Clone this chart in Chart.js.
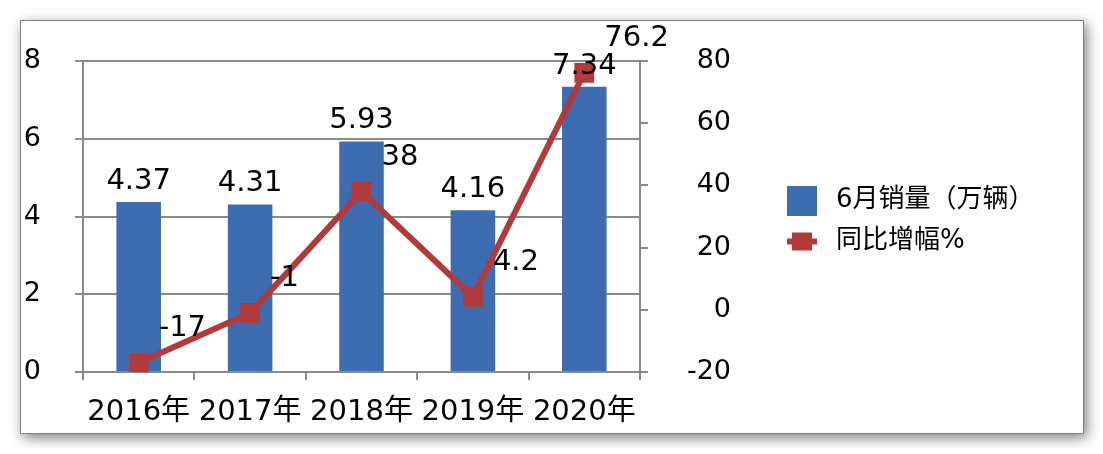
<!DOCTYPE html>
<html lang="zh">
<head>
<meta charset="UTF-8">
<title>6月销量</title>
<script src="https://cdn.jsdelivr.net/npm/chart.js"></script>
<style>
  body { margin: 0; background: #fff; }
  .frame {
    position: absolute; left: 20px; top: 20px;
    width: 1062px; height: 412px;
    border: 1px solid #7f7f7f;
    background: #fff;
    box-shadow: 3px 4px 12px rgba(0, 0, 0, 0.5);
  }
</style>
</head>
<body>
<div class="frame"><canvas id="chart"></canvas></div>
<script>
  // data
  const years = ['2016年', '2017年', '2018年', '2019年', '2020年'];
  const sales = [4.37, 4.31, 5.93, 4.16, 7.34];      // 6月销量（万辆）
  const growth = [-17, -1, 38, 4.2, 76.2];            // 同比增幅%
  const seriesNames = ['6月销量（万辆）', '同比增幅%'];

  const barColor = '#3e6cb0';
  const lineColor = '#b23a3a';
  const gridColor = '#8a8a8a';
  const FONT = '"DejaVu Sans", "Noto Sans CJK SC", sans-serif';

  // legend icons (box for bars, line + marker for the line)
  function makeIcon(kind) {
    const c = document.createElement('canvas');
    c.width = 36; c.height = 30;
    const g = c.getContext('2d');
    if (kind === 'bar') {
      g.fillStyle = barColor;
      g.fillRect(0, 0, 30, 30);
    } else {
      g.strokeStyle = lineColor;
      g.lineWidth = 6;
      g.beginPath(); g.moveTo(0, 15); g.lineTo(30, 15); g.stroke();
      g.fillStyle = lineColor;
      g.fillRect(5, 6, 20, 18);
    }
    return c;
  }
  const icons = [makeIcon('bar'), makeIcon('line')];

  // legend width -> right padding so the plot ends where it should
  const m = document.createElement('canvas').getContext('2d');
  m.font = '26px ' + FONT;
  const textW = Math.max(...seriesNames.map(s => m.measureText(s).width));
  const legendW = 25 + 36 + 13 + textW;
  const padRight = Math.max(0, 1062 - 619 - 132 - legendW);

  // fixed axis sizes, no extra label padding above/below the plot
  function fixY(width) {
    return s => { s.width = width; s.paddingTop = 0; s.paddingBottom = 0; };
  }

  // value labels
  const valueLabels = {
    id: 'valueLabels',
    afterDatasetsDraw(chart) {
      const ctx = chart.ctx;
      ctx.save();
      ctx.fillStyle = '#000';
      ctx.font = '29px ' + FONT;
      chart.getDatasetMeta(0).data.forEach((el, i) => {
        ctx.textAlign = 'center';
        ctx.textBaseline = 'alphabetic';
        ctx.fillText(String(sales[i]), el.x, el.y - 13);
      });
      chart.getDatasetMeta(1).data.forEach((el, i) => {
        ctx.textAlign = 'left';
        ctx.textBaseline = 'middle';
        ctx.fillText(String(growth[i]), el.x + 20, el.y - 34);
      });
      ctx.restore();
    }
  };

  new Chart(document.getElementById('chart'), {
    type: 'bar',
    data: {
      labels: years,
      datasets: [{
        type: 'bar',
        label: seriesNames[0],
        data: sales,
        backgroundColor: barColor,
        yAxisID: 'y',
        barPercentage: 0.4,
        categoryPercentage: 1,
        order: 1
      }, {
        type: 'line',
        label: seriesNames[1],
        data: growth,
        borderColor: lineColor,
        backgroundColor: lineColor,
        borderWidth: 6,
        pointStyle: 'rect',
        pointRadius: 14,
        pointHoverRadius: 14,
        pointBorderWidth: 0,
        tension: 0,
        yAxisID: 'y1',
        order: 0
      }]
    },
    options: {
      responsive: true,
      maintainAspectRatio: false,
      animation: false,
      layout: { padding: { top: 40, left: 0, bottom: 0, right: padRight } },
      plugins: {
        tooltip: { enabled: false },
        legend: {
          position: 'right',
          fullSize: false,
          maxWidth: 400,
          // empty title only nudges the items down a little
          title: { display: true, text: '', font: { size: 1, lineHeight: 1 }, padding: { top: 4, bottom: 4 } },
          labels: {
            color: '#000',
            font: { family: FONT, size: 26, lineHeight: 1 },
            padding: 15,
            usePointStyle: true,
            pointStyleWidth: 36,
            generateLabels(chart) {
              const items = Chart.defaults.plugins.legend.labels.generateLabels(chart);
              items.sort((a, b) => a.datasetIndex - b.datasetIndex);
              items.forEach(it => { it.pointStyle = icons[it.datasetIndex]; });
              return items;
            }
          }
        }
      },
      scales: {
        x: {
          afterFit(s) { s.height = 61; },
          grid: { offset: true, drawOnChartArea: false, tickLength: 8, color: gridColor, lineWidth: 2 },
          border: { color: gridColor, width: 2 },
          ticks: { color: '#000', font: { family: FONT, size: 29 }, padding: 15, maxRotation: 0, autoSkip: false }
        },
        y: {
          position: 'left',
          min: 0, max: 8,
          afterFit: fixY(62),
          grid: { color: gridColor, lineWidth: 2, tickLength: 8 },
          border: { color: gridColor, width: 2 },
          ticks: { stepSize: 2, color: '#000', font: { family: FONT, size: 27 }, padding: 34 }
        },
        y1: {
          position: 'right',
          min: -20, max: 80,
          afterFit: fixY(91),
          grid: { drawOnChartArea: false, color: gridColor, lineWidth: 2, tickLength: 8 },
          border: { color: gridColor, width: 2 },
          ticks: { stepSize: 20, color: '#000', font: { family: FONT, size: 27 }, crossAlign: 'far' }
        },
        // empty strip between the right axis and the legend
        gap: {
          position: 'right',
          weight: 1,
          afterFit: fixY(41),
          grid: { display: false },
          border: { display: false },
          ticks: { display: false }
        }
      }
    },
    plugins: [valueLabels]
  });
</script>
</body>
</html>
